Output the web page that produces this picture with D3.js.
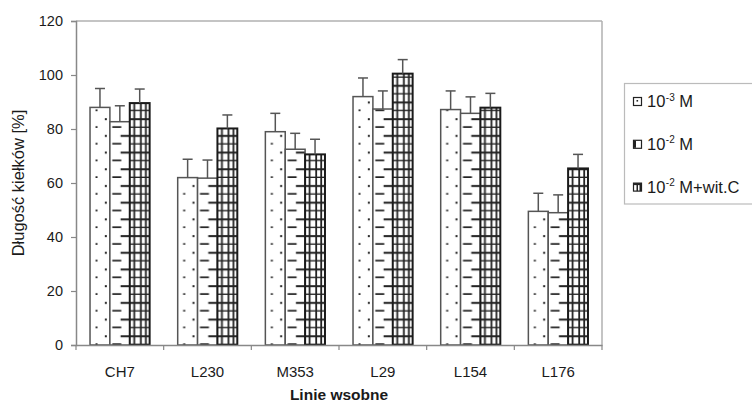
<!DOCTYPE html>
<html><head><meta charset="utf-8">
<script src="https://cdn.jsdelivr.net/npm/d3@7"></script>
<style>body{margin:0;background:#fff}svg{display:block}text{font-family:"Liberation Sans",Arial,sans-serif}</style>
</head><body>
<script>
const categories = ["CH7","L230","M353","L29","L154","L176"];
const seriesKeys = ["s1","s2","s3"];
const values1 = [88, 62, 79, 92, 87.2, 49.5];
const values2 = [82.7, 61.8, 72.5, 87.4, 85.8, 49];
const values3 = [89.6, 80.2, 70.6, 100.5, 87.9, 65.4];
const errors1 = [7, 6.8, 6.8, 6.9, 6.9, 6.7];
const errors2 = [5.9, 6.7, 5.9, 6.7, 6.1, 6.6];
const errors3 = [5.2, 5, 5.6, 5.2, 5.3, 5.2];
const yTicks = [0,20,40,60,80,100,120];
const legendLabels = [["10","-3"," M"],["10","-2"," M"],["10","-2"," M+wit.C"]];

const W=752,H=405, L=76,R=602,T=21,B=345;
const svg=d3.select("body").append("svg").attr("width",W).attr("height",H);
const defs=svg.append("defs");
const x0=d3.scaleBand().domain(categories).range([L,R]).paddingInner(0.32).paddingOuter(0.16);
const x1=d3.scaleBand().domain(seriesKeys).range([0,x0.bandwidth()]);
const y=d3.scaleLinear().domain([0,120]).range([B,T]);

const vals=[values1,values2,values3], errs=[errors1,errors2,errors3];
const data=[];
categories.forEach((c,i)=>seriesKeys.forEach((k,j)=>data.push({c,k,j,v:vals[j][i],e:errs[j][i]})));

// plot frame
svg.append("line").attr("x1",L).attr("x2",R).attr("y1",T).attr("y2",T).attr("stroke","#b0b0b0").attr("stroke-width",1.5);
svg.append("line").attr("x1",R).attr("x2",R).attr("y1",T).attr("y2",B).attr("stroke","#b0b0b0").attr("stroke-width",1.5);

const bw=x1.bandwidth(), ph=16.7;
data.forEach((d,i)=>{
  const bx=x0(d.c)+x1(d.k);
  const p=defs.append("pattern").attr("id","p"+i).attr("patternUnits","userSpaceOnUse")
    .attr("x",bx).attr("y",y(0)).attr("width",bw).attr("height",ph);
  p.append("rect").attr("width",bw).attr("height",ph).attr("fill","#fff");
  if(d.j===0){
    p.append("rect").attr("x",5.5).attr("y",15).attr("width",2).attr("height",2).attr("fill","#222");
    p.append("rect").attr("x",14.8).attr("y",7).attr("width",2).attr("height",2).attr("fill","#222");
  } else if(d.j===1){
    p.append("rect").attr("x",2.4).attr("y",15).attr("width",9).attr("height",2).attr("fill","#222");
    p.append("rect").attr("x",10.7).attr("y",7).attr("width",bw-10.7).attr("height",2).attr("fill","#222");
  } else {
    [7,15.35].forEach(yy=>p.append("rect").attr("x",0).attr("y",yy).attr("width",bw).attr("height",2).attr("fill","#222"));
    [3.6,10.2,15.2].forEach(xx=>p.append("rect").attr("x",xx).attr("y",0).attr("width",1.8).attr("height",ph).attr("fill","#222"));
  }
});

const g=svg.append("g");
g.selectAll("rect.bar").data(data).join("rect").attr("class","bar")
  .attr("x",d=>x0(d.c)+x1(d.k)).attr("width",bw)
  .attr("y",d=>y(d.v)).attr("height",d=>y(0)-y(d.v))
  .attr("fill",(d,i)=>`url(#p${i})`)
  .attr("stroke",d=>d.j===2?"#1a1a1a":"#555").attr("stroke-width",d=>d.j===2?2:1.5);

// error bars
const eb=g.selectAll("g.err").data(data).join("g").attr("class","err");
eb.append("line").attr("x1",d=>x0(d.c)+x1(d.k)+bw/2).attr("x2",d=>x0(d.c)+x1(d.k)+bw/2)
  .attr("y1",d=>y(d.v)).attr("y2",d=>y(d.v+d.e)).attr("stroke","#555").attr("stroke-width",1.5);
eb.append("line").attr("x1",d=>x0(d.c)+x1(d.k)+bw/2-5).attr("x2",d=>x0(d.c)+x1(d.k)+bw/2+5)
  .attr("y1",d=>y(d.v+d.e)).attr("y2",d=>y(d.v+d.e)).attr("stroke","#555").attr("stroke-width",1.5);

// y axis
const ya=svg.append("g").attr("transform",`translate(${L},0)`)
  .call(d3.axisLeft(y).tickValues(yTicks).tickSize(5).tickPadding(8));
ya.select(".domain").attr("stroke","#888").attr("stroke-width",1.5);
ya.selectAll(".tick line").attr("stroke","#888").attr("stroke-width",1.2);
ya.selectAll("text").attr("font-size",14.5).attr("fill","#1a1a1a");

// x axis
const xa=svg.append("g").attr("transform",`translate(0,${B})`)
  .call(d3.axisBottom(x0).tickSize(0).tickPadding(21));
xa.select(".domain").attr("stroke","#888").attr("stroke-width",1.5);
xa.selectAll("text").attr("font-size",15).attr("fill","#1a1a1a");
const step=x0.step();
svg.append("g").selectAll("line").data(d3.range(categories.length+1)).join("line")
  .attr("x1",i=>L+i*step).attr("x2",i=>L+i*step).attr("y1",B).attr("y2",B+5)
  .attr("stroke","#888").attr("stroke-width",1.2);

svg.append("text").attr("x",(L+R)/2).attr("y",400).attr("text-anchor","middle")
  .attr("font-size",15.5).attr("font-weight","bold").attr("fill","#1a1a1a").text("Linie wsobne");
svg.append("text").attr("transform",`translate(24,${(T+B)/2}) rotate(-90)`).attr("text-anchor","middle")
  .attr("font-size",16.5).attr("fill","#1a1a1a").text("Długość kiełków [%]");

// legend
svg.append("rect").attr("x",624.5).attr("y",83.5).attr("width",140).attr("height",120.5)
  .attr("fill","#fff").attr("stroke","#bbb").attr("stroke-width",1.2);
const lg=svg.append("g").selectAll("g").data(legendLabels).join("g")
  .attr("transform",(d,i)=>`translate(633,${107+i*42.8})`);
lg.append("rect").attr("x",0.5).attr("y",-9.5).attr("width",8).attr("height",8)
  .attr("fill","#fff").attr("stroke","#222").attr("stroke-width",1.2);
lg.filter((d,i)=>i===0).append("rect").attr("x",3.5).attr("y",-7).attr("width",1.6).attr("height",1.6).attr("fill","#222");
lg.filter((d,i)=>i===1).append("rect").attr("x",1).attr("y",-9).attr("width",2).attr("height",7).attr("fill","#222");
lg.filter((d,i)=>i===2).each(function(){
  const s=d3.select(this);
  s.append("rect").attr("x",0.5).attr("y",-9.5).attr("width",8).attr("height",2).attr("fill","#222");
  [3.5,6.5].forEach(xx=>s.append("rect").attr("x",xx).attr("y",-9).attr("width",1.5).attr("height",7.5).attr("fill","#222"));
});
const lt=lg.append("text").attr("x",14).attr("y",0).attr("font-size",16.5).attr("fill","#1a1a1a");
lt.append("tspan").text(d=>d[0]);
lt.append("tspan").attr("font-size",10).attr("dy",-6.5).attr("dx",0.5).text(d=>d[1]);
lt.append("tspan").attr("dy",6.5).text(d=>d[2]);
</script>
</body></html>
